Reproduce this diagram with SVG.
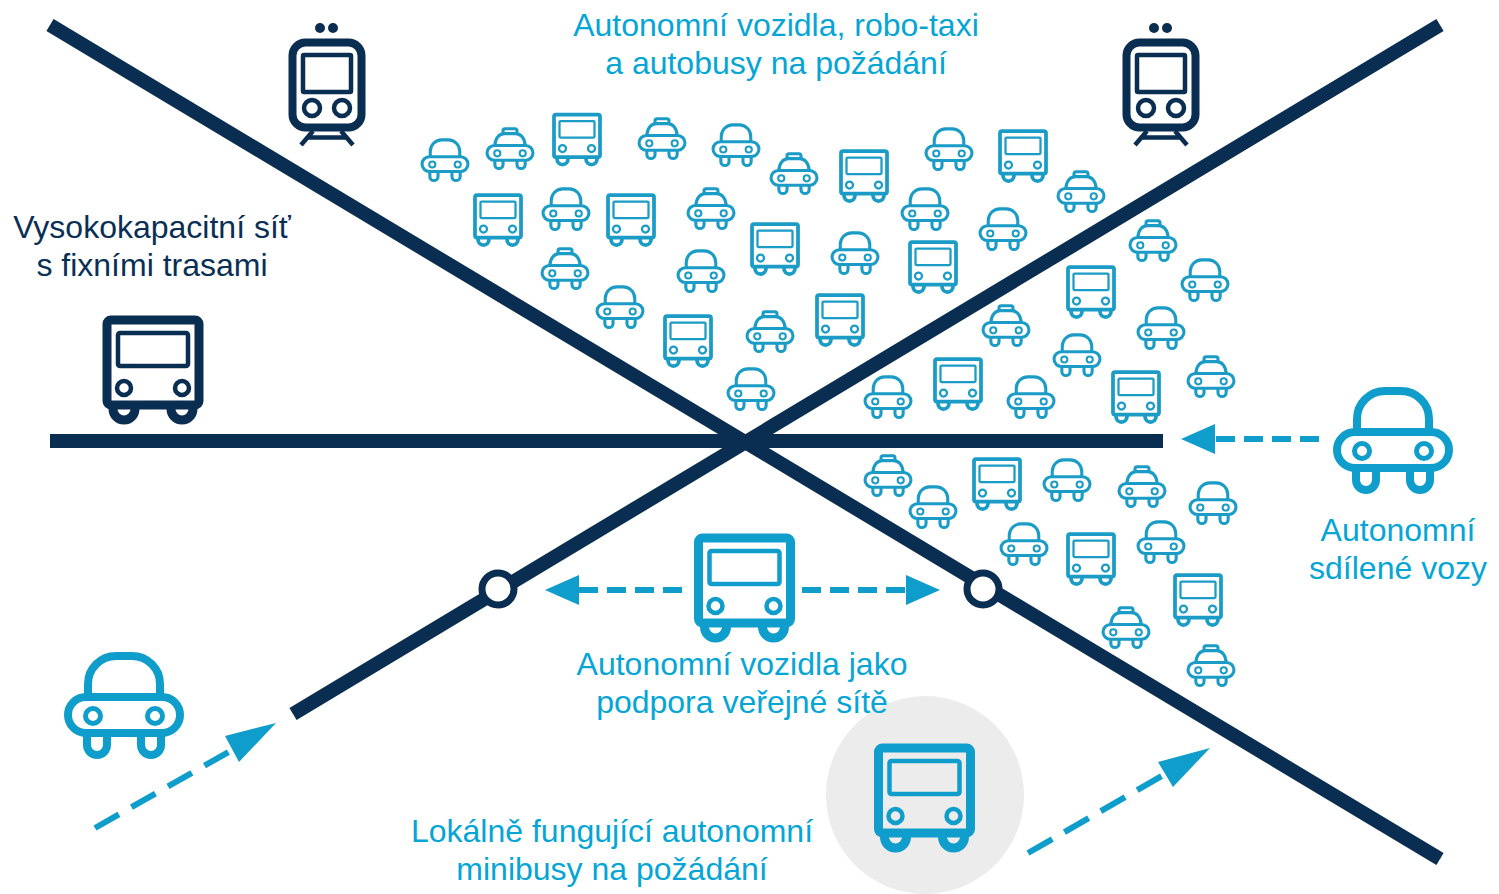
<svg xmlns="http://www.w3.org/2000/svg" width="1499" height="894" viewBox="0 0 1499 894">
<style>
text{font-family:"Liberation Sans",Arial,sans-serif;font-size:32px;text-anchor:middle}
.tb{fill:#05a5d6}
.td{fill:#0a2f55}
.icon{fill:none;stroke-linejoin:round;stroke-linecap:butt}
.blue{stroke:#0f9dcb}
.small{stroke:#1a9cc6}
.dark{stroke:#0a2d52}
.road{stroke:#0a2d52;stroke-width:14;fill:none}
.dash{stroke:#0f9dcb;stroke-width:6;fill:none}
.head{fill:#0f9dcb}
</style>
<defs>
<g id="bus">
<rect x="-46" y="-50" width="92" height="85" rx="4"/>
<rect x="-35" y="-37" width="70" height="33" rx="2" stroke-width="4.500"/>
<circle cx="-29" cy="18" r="7" stroke-width="4.500"/>
<circle cx="29" cy="18" r="7" stroke-width="4.500"/>
<path d="M-40 35v4a11 11 0 0 0 22 0v-4M18 35v4a11 11 0 0 0 22 0v-4"/>
</g>
<g id="car">
<path d="M-36 -8V-21a28 28 0 0 1 28-28h16a28 28 0 0 1 28 28V-8"/>
<rect x="-56" y="-8" width="112" height="36" rx="18"/>
<circle cx="-31" cy="11" r="7.500" stroke-width="5"/>
<circle cx="31" cy="11" r="7.500" stroke-width="5"/>
<path d="M-37 28V40a10 10 0 0 0 20 0V28M17 28V40a10 10 0 0 0 20 0V28"/>
</g>
<g id="taxi">
<path d="M-37 -6C-36 -24 -26 -35 -14 -35H14C26 -35 36 -24 37 -6"/>
<path d="M-17 -35V-42a5 5 0 0 1 5-5H12a5 5 0 0 1 5 5V-35"/>
<rect x="-56" y="-6" width="112" height="36" rx="18"/>
<circle cx="-31" cy="13" r="7.500" stroke-width="5"/>
<circle cx="31" cy="13" r="7.500" stroke-width="5"/>
<path d="M-37 30V40a10 10 0 0 0 20 0V30M17 30V40a10 10 0 0 0 20 0V30"/>
</g>
<g id="train">
<rect x="-34.500" y="-42.500" width="69" height="85" rx="13" stroke-width="8"/>
<rect x="-24" y="-30" width="48" height="37" rx="1" stroke-width="4.500"/>
<circle cx="-15" cy="23" r="8" stroke-width="4.500"/>
<circle cx="15" cy="23" r="8" stroke-width="4.500"/>
<path d="M-14 46L-26 60M14 46L26 60M-20 52.500H20" stroke-width="4.500"/>
<circle cx="-7" cy="-57" r="5" fill="#0a2d52" stroke="none"/>
<circle cx="6" cy="-57" r="5" fill="#0a2d52" stroke="none"/>
</g>
</defs>
<g id="local-zone"><circle cx="925" cy="795" r="99" fill="#ececec"/></g>
<g id="connectors">
<path class="road" d="M50 25L1440 859"/>
<path class="road" d="M1440 25L293 714"/>
<path class="road" d="M50 441H1163"/>
<path class="dash" d="M1319 439H1215" stroke-dasharray="19 9"/>
<polygon class="head" points="1181,439 1215,424 1215,454"/>
<path class="dash" d="M682 590H578" stroke-dasharray="19 9"/>
<polygon class="head" points="545,590 579,575 579,605"/>
<path class="dash" d="M802 590H906" stroke-dasharray="19 9"/>
<polygon class="head" points="940,590 906,575 906,605"/>
<path class="dash" d="M95 828L232 750" stroke-dasharray="27.500 14.500"/>
<polygon class="head" points="276,723 225,736 239,762"/>
<path class="dash" d="M1028 853L1167 773" stroke-dasharray="28 14"/>
<polygon class="head" points="1210,748 1158,762 1173,787"/>
</g>
<g id="stop-left"><circle cx="498" cy="589" r="16" fill="#fff" stroke="#0a2d52" stroke-width="7"/></g>
<g id="stop-right"><circle cx="983" cy="589" r="16" fill="#fff" stroke="#0a2d52" stroke-width="7"/></g>
<g id="train-left" class="icon dark"><use href="#train" x="327" y="85"/></g>
<g id="train-right" class="icon dark"><use href="#train" x="1161" y="85"/></g>
<g id="bus-dark" class="icon dark" stroke-width="9"><use href="#bus" transform="translate(153 370)"/></g>
<g id="bus-support" class="icon blue" stroke-width="9"><use href="#bus" transform="translate(744.500 588)"/></g>
<g id="bus-local" class="icon blue" stroke-width="9"><use href="#bus" transform="translate(924.500 798)"/></g>
<g id="car-shared" class="icon blue" stroke-width="8"><use href="#car" transform="translate(1393 440)"/></g>
<g id="car-left" class="icon blue" stroke-width="8"><use href="#car" transform="translate(124 705)"/></g>
<g id="fleet" class="icon small" stroke-width="7.500">
<g id="c1"><use href="#car" transform="translate(445 160) scale(.41)"/></g>
<g id="t1"><use href="#taxi" transform="translate(510 148) scale(.41)"/></g>
<g id="b1"><use href="#bus" transform="translate(577 139.500) scale(.5)"/></g>
<g id="t2"><use href="#taxi" transform="translate(662 138) scale(.41)"/></g>
<g id="c2"><use href="#car" transform="translate(736 145) scale(.41)"/></g>
<g id="t3"><use href="#taxi" transform="translate(794 173) scale(.41)"/></g>
<g id="b2"><use href="#bus" transform="translate(864 176) scale(.5)"/></g>
<g id="c3"><use href="#car" transform="translate(949 149) scale(.41)"/></g>
<g id="b3"><use href="#bus" transform="translate(1023 156) scale(.5)"/></g>
<g id="t4"><use href="#taxi" transform="translate(1081 191) scale(.41)"/></g>
<g id="b4"><use href="#bus" transform="translate(498 220) scale(.5)"/></g>
<g id="c4"><use href="#car" transform="translate(566 209) scale(.41)"/></g>
<g id="b5"><use href="#bus" transform="translate(631 220) scale(.5)"/></g>
<g id="t5"><use href="#taxi" transform="translate(711 208) scale(.41)"/></g>
<g id="b6"><use href="#bus" transform="translate(775 249) scale(.5)"/></g>
<g id="c5"><use href="#car" transform="translate(855 253) scale(.41)"/></g>
<g id="c6"><use href="#car" transform="translate(925 209) scale(.41)"/></g>
<g id="c7"><use href="#car" transform="translate(1003 229) scale(.41)"/></g>
<g id="b7"><use href="#bus" transform="translate(933 267) scale(.5)"/></g>
<g id="t6"><use href="#taxi" transform="translate(1153 240) scale(.41)"/></g>
<g id="c8"><use href="#car" transform="translate(1205 280) scale(.41)"/></g>
<g id="t7"><use href="#taxi" transform="translate(565 268) scale(.41)"/></g>
<g id="c9"><use href="#car" transform="translate(701 271) scale(.41)"/></g>
<g id="c10"><use href="#car" transform="translate(620 307) scale(.41)"/></g>
<g id="b8"><use href="#bus" transform="translate(688 341) scale(.5)"/></g>
<g id="t8"><use href="#taxi" transform="translate(770 331) scale(.41)"/></g>
<g id="b9"><use href="#bus" transform="translate(840 320) scale(.5)"/></g>
<g id="b10"><use href="#bus" transform="translate(1091 292) scale(.5)"/></g>
<g id="t9"><use href="#taxi" transform="translate(1006 325) scale(.41)"/></g>
<g id="c11"><use href="#car" transform="translate(1161 328) scale(.41)"/></g>
<g id="c12"><use href="#car" transform="translate(1077 355) scale(.41)"/></g>
<g id="t10"><use href="#taxi" transform="translate(1211 376) scale(.41)"/></g>
<g id="c13"><use href="#car" transform="translate(751 389) scale(.41)"/></g>
<g id="c14"><use href="#car" transform="translate(888 397) scale(.41)"/></g>
<g id="b11"><use href="#bus" transform="translate(958 384) scale(.5)"/></g>
<g id="c15"><use href="#car" transform="translate(1031 397) scale(.41)"/></g>
<g id="b12"><use href="#bus" transform="translate(1136 397) scale(.5)"/></g>
<g id="t11"><use href="#taxi" transform="translate(888 475) scale(.41)"/></g>
<g id="c16"><use href="#car" transform="translate(933 507) scale(.41)"/></g>
<g id="b13"><use href="#bus" transform="translate(997 484) scale(.5)"/></g>
<g id="c17"><use href="#car" transform="translate(1067 480) scale(.41)"/></g>
<g id="t12"><use href="#taxi" transform="translate(1142 486) scale(.41)"/></g>
<g id="c18"><use href="#car" transform="translate(1213 503) scale(.41)"/></g>
<g id="c19"><use href="#car" transform="translate(1024 544) scale(.41)"/></g>
<g id="b14"><use href="#bus" transform="translate(1091 559) scale(.5)"/></g>
<g id="c20"><use href="#car" transform="translate(1161 542) scale(.41)"/></g>
<g id="b15"><use href="#bus" transform="translate(1198 600) scale(.5)"/></g>
<g id="t13"><use href="#taxi" transform="translate(1126 627) scale(.41)"/></g>
<g id="t14"><use href="#taxi" transform="translate(1211 665) scale(.41)"/></g>
</g>
<g id="labels">
<text class="tb" x="776" y="36">Autonomní vozidla, robo-taxi</text>
<text class="tb" x="776" y="74">a autobusy na požádání</text>
<text class="td" x="152" y="238">Vysokokapacitní síť</text>
<text class="td" x="152" y="276">s fixními trasami</text>
<text class="tb" x="1398" y="541">Autonomní</text>
<text class="tb" x="1398" y="579">sdílené vozy</text>
<text class="tb" x="742" y="675">Autonomní vozidla jako</text>
<text class="tb" x="742" y="713">podpora veřejné sítě</text>
<text class="tb" x="612" y="842">Lokálně fungující autonomní</text>
<text class="tb" x="612" y="880">minibusy na požádání</text>
</g>
</svg>
